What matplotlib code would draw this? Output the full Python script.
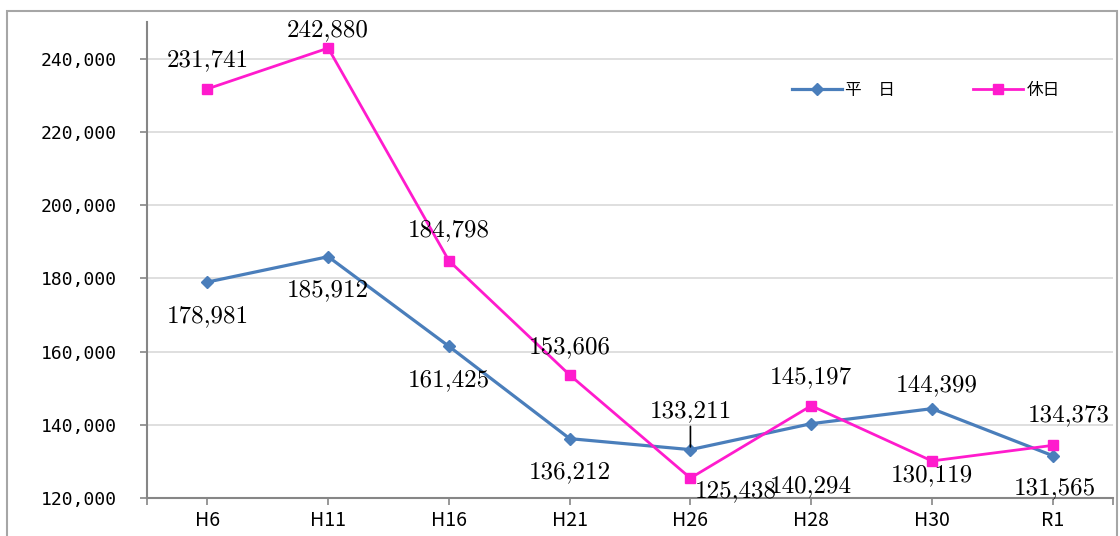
import matplotlib.pyplot as plt
from matplotlib.patches import Rectangle
from matplotlib.ticker import FuncFormatter, FixedLocator

years = ["H6", "H11", "H16", "H21", "H26", "H28", "H30", "R1"]
weekday = [178981, 185912, 161425, 136212, 133211, 140294, 144399, 131565]
holiday = [231741, 242880, 184798, 153606, 125438, 145197, 130119, 134373]

# label offsets in pixels (dx, dy) relative to each point
weekday_off = [(0, -34), (0, -34), (0, -34), (0, -34), (0, 38), (0, -63), (5, 23), (2, -33)]
holiday_off = [(0, 29), (0, 18), (0, 31), (0, 28), (45, -13), (0, 29), (0, -14), (16, 30)]

blue = "#4A7EBB"
pink = "#FF1BCD"

fig = plt.figure(figsize=(11.2, 5.36), dpi=100)
ax = fig.add_axes([0.1313, 0.0709, 0.8625, 0.888])

x = list(range(len(years)))
ax.plot(x, weekday, color=blue, lw=2.3, marker="D", ms=6.5, label="平\u3000日", zorder=3)
ax.plot(x, holiday, color=pink, lw=2.0, marker="s", ms=7.5, label="休日", zorder=3)

ax.set_xlim(-0.5, len(years) - 0.5)
ax.set_ylim(120000, 250000)
ax.set_yticks(range(120000, 240001, 20000))
ax.yaxis.set_major_formatter(FuncFormatter(lambda v, p: f"{int(v):,}"))
ax.set_xticks(x)
ax.set_xticklabels(years)
ax.xaxis.set_minor_locator(FixedLocator([-0.5, len(years) - 0.5]))

ax.grid(axis="y", color="#D9D9D9", lw=1.2)
ax.set_axisbelow(True)
for s in ["top", "right"]:
    ax.spines[s].set_visible(False)
for s in ["left", "bottom"]:
    ax.spines[s].set_color("#868686")
    ax.spines[s].set_linewidth(1.5)

ax.tick_params(axis="y", length=5, color="#868686", width=1.2, pad=17)
ax.tick_params(axis="x", which="both", length=5, color="#868686", width=1.2, pad=4)
for t in ax.get_yticklabels():
    t.set_fontfamily("DejaVu Sans Mono")
    t.set_fontsize(13)
for t in ax.get_xticklabels():
    t.set_fontfamily("Noto Sans CJK JP")
    t.set_fontsize(14)

for xi, v, off in zip(x, weekday, weekday_off):
    ax.annotate(f"{v:,}", (xi, v), xytext=off, textcoords="offset pixels",
                ha="center", va="center", fontsize=18, family="cmr10")
for xi, v, off in zip(x, holiday, holiday_off):
    ax.annotate(f"{v:,}", (xi, v), xytext=off, textcoords="offset pixels",
                ha="center", va="center", fontsize=18, family="cmr10")

# leader line for H26 weekday label
ax.annotate("", xy=(4, weekday[4]), xytext=(0, 26), textcoords="offset pixels",
            arrowprops=dict(arrowstyle="-", color="black", lw=1.2))

leg = ax.legend(loc="center left", bbox_to_anchor=(0.652, 0.857), ncol=2, frameon=False,
                handlelength=3.0, columnspacing=4.7, handletextpad=0.2,
                prop={"family": "Noto Sans CJK JP", "size": 12})

fig.add_artist(Rectangle((0.0065, -0.02), 0.991, 0.9995, transform=fig.transFigure,
                         fill=False, edgecolor="#A6A6A6", lw=1.5))

fig.savefig("out.png", dpi=100)
